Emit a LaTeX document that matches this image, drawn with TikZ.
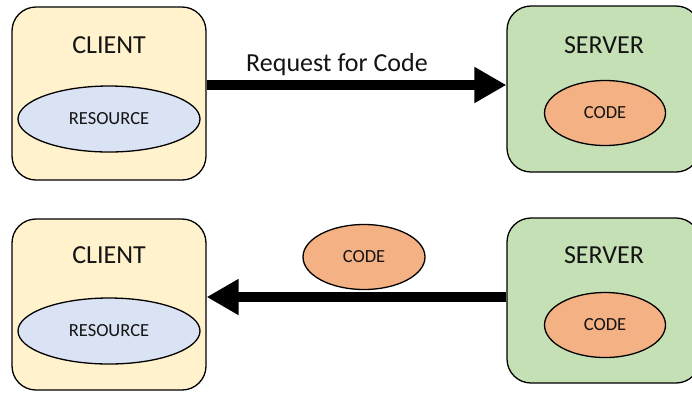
\documentclass[tikz,border=0pt]{standalone}
\usepackage{fontspec}
\setmainfont{Carlito}
\usetikzlibrary{shapes.geometric,arrows.meta}

\definecolor{clientfill}{HTML}{FFF2CC}
\definecolor{serverfill}{HTML}{C5E0B4}
\definecolor{resfill}{HTML}{DAE3F3}
\definecolor{codefill}{HTML}{F4B183}
\definecolor{ink}{HTML}{141414}

\tikzset{
  panel/.style={draw=black, line width=1.3pt, rounded corners=24pt,
    rectangle, inner sep=0pt},
  clientbox/.style={panel, fill=clientfill},
  serverbox/.style={panel, fill=serverfill},
  blob/.style={ellipse, draw=black, line width=1.3pt, inner sep=0pt,
    text=ink, font=\fontsize{18.5}{22}\selectfont},
  resblob/.style={blob, fill=resfill, minimum width=182pt, minimum height=66pt},
  codeblob/.style={blob, fill=codefill, minimum width=121pt, minimum height=65pt},
  title/.style={text=ink, font=\fontsize{26}{30}\selectfont, inner sep=0pt},
  flow/.style={line width=10pt, -{Triangle[length=32pt,width=34pt]}}
}

\begin{document}
\begin{tikzpicture}[x=1pt,y=-1pt]
  \clip (0,0) rectangle (692,392);
  \fill[white] (0,0) rectangle (692,392);

  % top row: the client asks the server for code
  \node[clientbox, minimum width=194pt, minimum height=173pt] (c1) at (109,93.5) {};
  \node[title] (c1t) at (109,45) {CLIENT};
  \node[resblob] (r1) at (109,119) {RESOURCE};

  \node[serverbox, minimum width=193pt, minimum height=166pt] (s1) at (603.5,89) {};
  \node[title] (s1t) at (604,45) {SERVER};
  \node[codeblob] (k1) at (605,113) {CODE};

  \draw[flow] (c1.east |- 0,85) -- (s1.west |- 0,85);
  \node[title] (req) at (337,65) {Request for Code};

  % bottom row: the server sends the code back
  \node[clientbox, minimum width=194pt, minimum height=171pt] (c2) at (109,304.5) {};
  \node[title] (c2t) at (109,255) {CLIENT};
  \node[resblob] (r2) at (109,331) {RESOURCE};

  \node[serverbox, minimum width=193pt, minimum height=165pt] (s2) at (603.5,300.5) {};
  \node[title] (s2t) at (604,255) {SERVER};
  \node[codeblob] (k2) at (605,325) {CODE};

  \draw[flow] (s2.west |- 0,297) -- (c2.east |- 0,297);
  \node[codeblob, minimum width=122pt] (k3) at (364,257) {CODE};
\end{tikzpicture}
\end{document}
